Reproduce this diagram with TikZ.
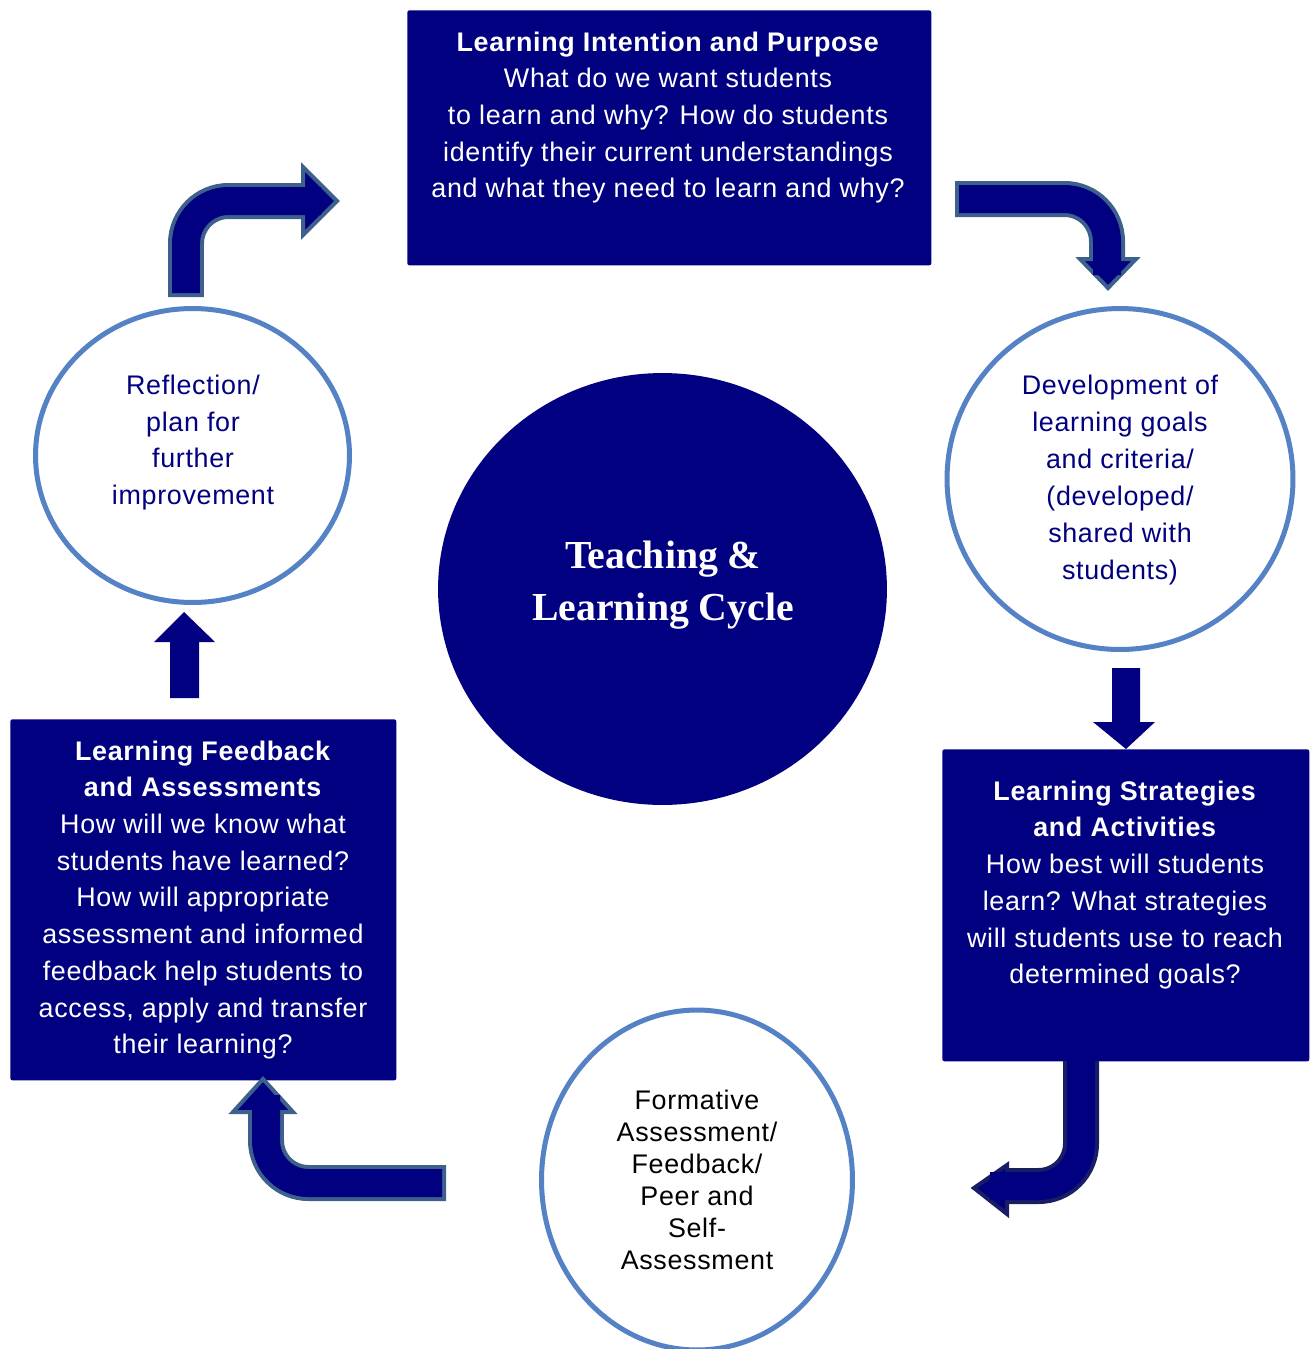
\documentclass[tikz,border=0pt]{standalone}
\usepackage{fontspec}
\setmainfont{Liberation Sans}[LetterSpace=2.5]
\newfontfamily\titleserif{Liberation Serif}
\usetikzlibrary{shapes.geometric}
\definecolor{navyfill}{RGB}{0,0,128}
\definecolor{arrowline}{RGB}{62,96,140}
\definecolor{navyline}{RGB}{25,30,100}
\definecolor{ringblue}{RGB}{84,130,196}
\tikzset{
  navybox/.style={draw=none, fill=navyfill, rounded corners=0.04cm, inner sep=0pt, anchor=north west},
  ring/.style={ellipse, draw=ringblue, line width=0.1cm, fill=white, inner sep=0pt},
  hub/.style={ellipse, fill=navyfill, draw=none, inner sep=0pt},
  boxtext/.style={text=white, align=center, inner sep=0pt, font=\fontsize{15.3}{20.9}\selectfont},
  ringtext/.style={text=navyfill, align=center, inner sep=0pt, font=\fontsize{15.3}{21}\selectfont},
  shaftout/.style={draw=#1, line width=0.72cm},
  shaftin/.style={draw=navyfill, line width=0.56cm},
  headtri/.style={fill=navyfill, draw=#1, line width=0.08cm, line join=miter},
  plainarrow/.style={fill=navyfill, draw=none}
}
\begin{document}
\begin{tikzpicture}[x=0.02cm, y=-0.02cm]
\useasboundingbox[fill=white] (0,0) rectangle (1313,1349);

% boxes
\node[navybox, minimum width=10.48cm, minimum height=5.1cm] (topbox) at (407,10) {};
\node[navybox, minimum width=7.72cm, minimum height=7.22cm] (leftbox) at (10,719) {};
\node[navybox, minimum width=7.34cm, minimum height=6.24cm] (rightbox) at (942,749) {};

% circles
\node[ring, minimum width=6.92cm, minimum height=6.82cm] (rightring) at (1120,479) {};
\node[ring, minimum width=6.28cm, minimum height=5.88cm] (leftring) at (192.5,455.5) {};
\node[ring, minimum width=6.22cm, minimum height=6.8cm] (bottomring) at (697,1180) {};
\node[hub, minimum width=8.98cm, minimum height=8.64cm] (hub) at (662.5,589) {};

% texts
\node[boxtext] (toptext) at (668,117.5) {\textbf{Learning Intention and Purpose}\\What do we want students\\to learn and why? How do students\\identify their current understandings\\and what they need to learn and why?};
\node[boxtext] (lefttext) at (203,900) {\textbf{Learning Feedback}\\\textbf{and Assessments}\\How will we know what\\students have learned?\\How will appropriate\\assessment and informed\\feedback help students to\\access, apply and transfer\\their learning?};
\node[boxtext] (righttext) at (1125,885) {\textbf{Learning Strategies}\\\textbf{and Activities}\\How best will students\\learn? What strategies\\will students use to reach\\determined goals?};
\node[ringtext] (rightringtext) at (1120,480) {Development of\\learning goals\\and criteria/\\(developed/\\shared with\\students)};
\node[ringtext] (leftringtext) at (193,442.5) {Reflection/\\plan for\\further\\improvement};
\node[ringtext, text=black, font=\fontsize{15.3}{18.2}\selectfont] (bottomringtext) at (697,1180) {Formative\\Assessment/\\Feedback/\\Peer and\\Self-\\Assessment};
\node[text=white, align=center, inner sep=0pt, font=\titleserif\bfseries\fontsize{22.6}{29.6}\selectfont] (hubtext) at (663,585) {Teaching \&\\Learning Cycle};

% arrow coordinates
\coordinate (a1s) at (186,297);
\coordinate (a1c) at (186,201);
\coordinate (a1e) at (306,201);
\coordinate (a2s) at (955,199);
\coordinate (a2c) at (1107,199);
\coordinate (a2e) at (1107,260);
\coordinate (a3s) at (1081,1061);
\coordinate (a3c) at (1081,1186);
\coordinate (a3e) at (1005,1186);
\coordinate (a4s) at (446,1183);
\coordinate (a4c) at (266,1183);
\coordinate (a4e) at (266,1110);

% top-left bent arrow (leftring -> topbox)
\draw[shaftout=arrowline, rounded corners=0.85cm] (a1s) -- (a1c) -- (a1e);
\filldraw[headtri=arrowline] (303,167) -- (337,201) -- (303,235) -- cycle;
\draw[shaftin, rounded corners=0.85cm] ([yshift=0.08cm]a1s) -- (a1c) -- ([xshift=0.3cm]a1e);

% top-right bent arrow (topbox -> rightring)
\draw[shaftout=arrowline, rounded corners=0.85cm] (a2s) -- (a2c) -- (a2e);
\filldraw[headtri=arrowline] (1080,259) -- (1108,288) -- (1136,259) -- cycle;
\draw[shaftin, rounded corners=0.85cm] ([xshift=0.08cm]a2s) -- (a2c) -- ([yshift=-0.3cm]a2e);

% bottom-right bent arrow (rightbox -> bottomring)
\draw[shaftout=navyline, rounded corners=0.85cm] (a3s) -- (a3c) -- (a3e);
\filldraw[headtri=navyline] (1007,1165) -- (974,1188) -- (1007,1214) -- cycle;
\draw[shaftin, rounded corners=0.85cm] (a3s) -- (a3c) -- ([xshift=-0.3cm]a3e);

% bottom-left bent arrow (bottomring -> leftbox)
\draw[shaftout=arrowline, rounded corners=0.85cm] (a4s) -- (a4c) -- (a4e);
\filldraw[headtri=arrowline] (233,1112) -- (263,1079) -- (293,1112) -- cycle;
\draw[shaftin, rounded corners=0.85cm] ([xshift=-0.08cm]a4s) -- (a4c) -- ([yshift=0.3cm]a4e);

% straight block arrows
\fill[plainarrow] (170,698) -- (170,642) -- (154,642) -- (184,612) -- (215,642) -- (199,642) -- (199,698) -- cycle;
\fill[plainarrow] (1112,668) -- (1112,722) -- (1093,722) -- (1126,749) -- (1155,722) -- (1140,722) -- (1140,668) -- cycle;
\end{tikzpicture}
\end{document}
